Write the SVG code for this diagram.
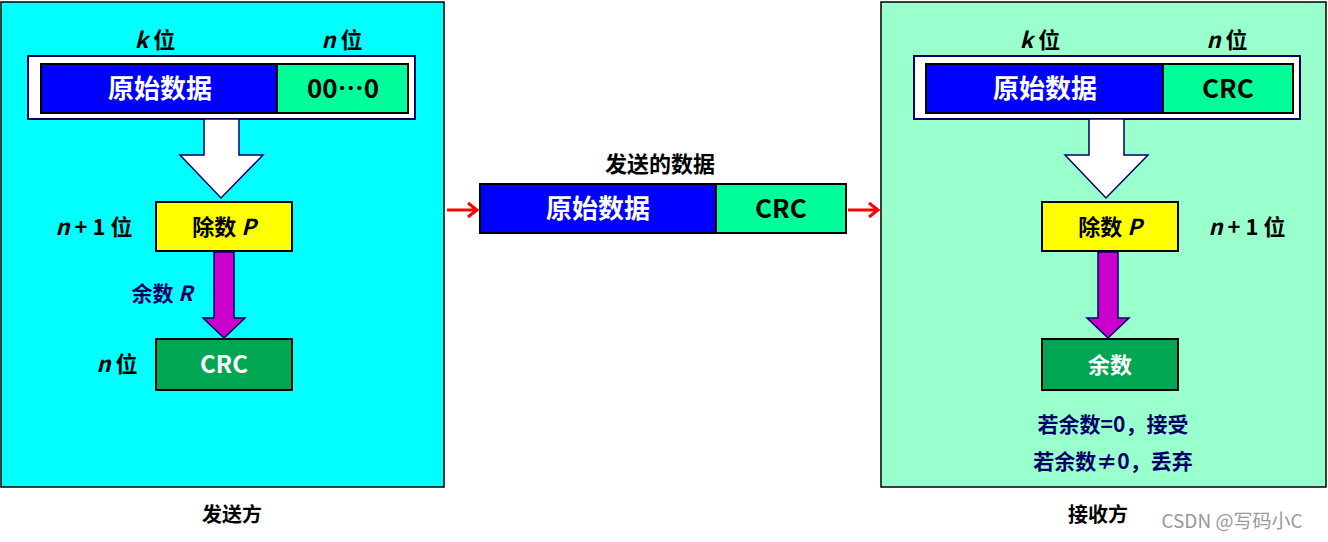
<svg xmlns="http://www.w3.org/2000/svg" width="1328" height="542" viewBox="0 0 1328 542">
<style>
text{font-family:"Noto Sans CJK SC","Liberation Sans",sans-serif;font-weight:bold;text-anchor:middle}
.w{fill:#fff;font-size:26px}.b{fill:#000;font-size:26px}.l{font-size:22px;fill:#000}.n{fill:#000066;font-size:21px}
.bx{stroke:#000;stroke-width:2}
i{font-style:italic}
</style>
<rect width="1328" height="542" fill="#fff"/>
<g id="sender">
<rect x="1" y="2" width="443" height="485" fill="#00ffff" stroke="#000" stroke-width="1.5"/>
<rect x="28" y="56" width="387" height="63" fill="#fff" stroke="#000066" stroke-width="2"/>
<rect class="bx" x="41" y="64" width="236" height="49" fill="#0000ff"/>
<rect class="bx" x="277" y="64" width="131" height="49" fill="#00ff99"/>
<text class="w" x="160" y="98">原始数据</text>
<text class="b" x="343" y="98">00…0</text>
<text class="l" x="155" y="48"><tspan font-style="italic">k</tspan> 位</text>
<text class="l" x="342" y="48"><tspan font-style="italic">n</tspan> 位</text>
<polygon points="204,119 239,119 239,155 263,155 221,198 180,155 204,155" fill="#fff" stroke="#000066" stroke-width="1.5"/>
<rect class="bx" x="156" y="202" width="136" height="49" fill="#ffff00"/>
<text class="l" x="224" y="235">除数 <tspan font-style="italic">P</tspan></text>
<text class="l" x="94" y="235"><tspan font-style="italic">n</tspan> + 1 位</text>
<polygon points="214,252 234,252 234,318 245,318 224,338 203,318 214,318" fill="#cc00cc" stroke="#000066" stroke-width="1.5"/>
<text class="n" x="162" y="301">余数 <tspan font-style="italic">R</tspan></text>
<rect class="bx" x="156" y="339" width="136" height="51" fill="#00a651"/>
<text class="w" x="224" y="373" style="font-size:24px">CRC</text>
<text class="l" x="117" y="372"><tspan font-style="italic">n</tspan> 位</text>
</g>
<g id="sent">
<text class="l" x="660" y="172">发送的数据</text>
<rect class="bx" x="480" y="184" width="236" height="49" fill="#0000ff"/>
<rect class="bx" x="716" y="184" width="130" height="49" fill="#00ff99"/>
<text class="w" x="598" y="218">原始数据</text>
<text class="b" x="781" y="218">CRC</text>
</g>
<g id="receiver">
<rect x="881" y="2" width="445" height="485" fill="#99ffcc" stroke="#000" stroke-width="1.5"/>
<rect x="914" y="56" width="386" height="63" fill="#fff" stroke="#000066" stroke-width="2"/>
<rect class="bx" x="926" y="64" width="237" height="49" fill="#0000ff"/>
<rect class="bx" x="1163" y="64" width="130" height="49" fill="#00ff99"/>
<text class="w" x="1045" y="98">原始数据</text>
<text class="b" x="1228" y="98">CRC</text>
<text class="l" x="1040" y="48"><tspan font-style="italic">k</tspan> 位</text>
<text class="l" x="1227" y="48"><tspan font-style="italic">n</tspan> 位</text>
<polygon points="1089,119 1124,119 1124,155 1148,155 1106,198 1065,155 1089,155" fill="#fff" stroke="#000066" stroke-width="1.5"/>
<rect class="bx" x="1042" y="202" width="136" height="49" fill="#ffff00"/>
<text class="l" x="1110" y="235">除数 <tspan font-style="italic">P</tspan></text>
<text class="l" x="1247" y="235"><tspan font-style="italic">n</tspan> + 1 位</text>
<polygon points="1098,252 1118,252 1118,318 1129,318 1108,338 1087,318 1098,318" fill="#cc00cc" stroke="#000066" stroke-width="1.5"/>
<rect class="bx" x="1042" y="339" width="136" height="51" fill="#00a651"/>
<text class="w" x="1110" y="373" style="font-size:22px">余数</text>
<text class="n" x="1113" y="432">若余数=0，接受</text>
<text class="n" x="1113" y="469">若余数≠0，丢弃</text>
</g>
<text class="l" x="232" y="522" style="font-size:20px">发送方</text>
<text class="l" x="1098" y="522" style="font-size:20px">接收方</text>
<text x="1232" y="528" style="font-size:19px;font-weight:normal;fill:#999">CSDN @写码小C</text>
<g id="connectors" stroke="#ff0000" stroke-width="3" fill="none">
<path d="M447,210 H477 M468,203 L477,210 L468,217"/>
<path d="M848,210 H878 M869,203 L878,210 L869,217"/>
</g>
</svg>
